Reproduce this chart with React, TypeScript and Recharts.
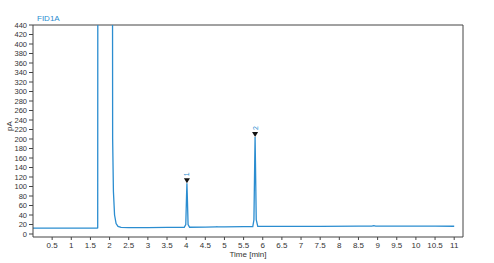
import React from 'react';
import {
  ComposedChart,
  Line,
  Scatter,
  XAxis,
  YAxis,
  ReferenceLine,
  Label,
} from 'recharts';

// chromatogram trace, time in min, signal in pA
const times = [
  0, 1.0, 1.68, 1.69, 1.7, 2.06, 2.08, 2.1, 2.13, 2.17, 2.22, 2.3, 2.5, 3.0, 3.5,
  3.95, 3.99, 4.01, 4.02, 4.03, 4.05, 4.09, 4.5, 4.78, 4.8, 4.82, 5.0, 5.5, 5.74,
  5.77, 5.79, 5.8, 5.81, 5.83, 5.87, 6.5, 7.5, 8.5, 8.85, 8.9, 8.95, 9.5, 10.5, 11.0,
];
const signal = [
  12.5, 12.5, 12.6, 13, 2000, 2000, 200, 90, 40, 22, 16, 14, 13.6, 13.6, 13.8,
  14, 20, 80, 107, 80, 20, 14.2, 14.5, 14.8, 15.6, 14.9, 15, 15.5, 15.6,
  30, 150, 204, 150, 30, 16, 16, 16.2, 16.4, 16.5, 17.6, 16.5, 16.5, 16.5, 16.3,
];

const peakTimes = [4.02, 5.8];
const peakHeights = [107, 204];
const peakLabels = ['1', '2'];

const xTicks = [0.5, 1, 1.5, 2, 2.5, 3, 3.5, 4, 4.5, 5, 5.5, 6, 6.5, 7, 7.5, 8, 8.5, 9, 9.5, 10, 10.5, 11];
const yTicks = [0, 20, 40, 60, 80, 100, 120, 140, 160, 180, 200, 220, 240, 260, 280, 300, 320, 340, 360, 380, 400, 420, 440];

const trace = times.map((t, i) => ({ t, v: signal[i] }));
const peaks = peakTimes.map((t, i) => ({ t, v: peakHeights[i], label: peakLabels[i] }));

const BLUE = '#2b8dd0';
const AXIS = '#444';
const FONT = 'Liberation Sans, Arial, sans-serif';

const PeakMarker = (props: any) => {
  const { cx, cy, payload } = props;
  if (cx == null || cy == null) return null;
  return (
    <g>
      <path d={`M${cx - 3},${cy - 5} L${cx + 3},${cy - 5} L${cx},${cy} Z`} fill="#111" />
      <text
        x={cx}
        y={cy - 7}
        transform={`rotate(-90 ${cx} ${cy - 7})`}
        fill={BLUE}
        fontSize={7}
        fontFamily={FONT}
        textAnchor="start"
        dominantBaseline="central"
      >
        {payload.label}
      </text>
    </g>
  );
};

export default function App() {
  return (
    <div style={{ position: 'absolute', left: 0, top: 0, width: 494, height: 263, background: '#fff' }}>
      <ComposedChart width={494} height={263} margin={{ top: 25, right: 31, left: 0, bottom: 0 }}>
        <text x={37} y={21} fill={BLUE} fontSize={8} fontFamily={FONT}>
          FID1A
        </text>
        <XAxis
          dataKey="t"
          type="number"
          domain={[0, 11.23]}
          ticks={xTicks}
          allowDataOverflow
          height={26}
          tickSize={3}
          stroke={AXIS}
          tick={{ fill: '#333', fontSize: 8, fontFamily: FONT }}
        >
          <Label value="Time [min]" position="insideBottom" offset={6} fill="#333" fontSize={8} fontFamily={FONT} />
        </XAxis>
        <YAxis
          type="number"
          domain={[-6.3, 440]}
          ticks={yTicks}
          allowDataOverflow
          width={33}
          tickSize={4}
          stroke={AXIS}
          interval={0}
          tick={{ fill: '#333', fontSize: 7.5, fontFamily: FONT }}
        >
          <Label value="pA" angle={-90} position="insideLeft" offset={9} fill="#333" fontSize={8} fontFamily={FONT} />
        </YAxis>
        <ReferenceLine y={440} stroke={AXIS} strokeWidth={1} />
        <ReferenceLine x={11.23} stroke={AXIS} strokeWidth={1} />
        <Line
          data={trace}
          dataKey="v"
          type="linear"
          stroke={BLUE}
          strokeWidth={1.3}
          dot={false}
          activeDot={false}
          isAnimationActive={false}
        />
        <Scatter data={peaks} dataKey="v" shape={<PeakMarker />} isAnimationActive={false} />
      </ComposedChart>
    </div>
  );
}
